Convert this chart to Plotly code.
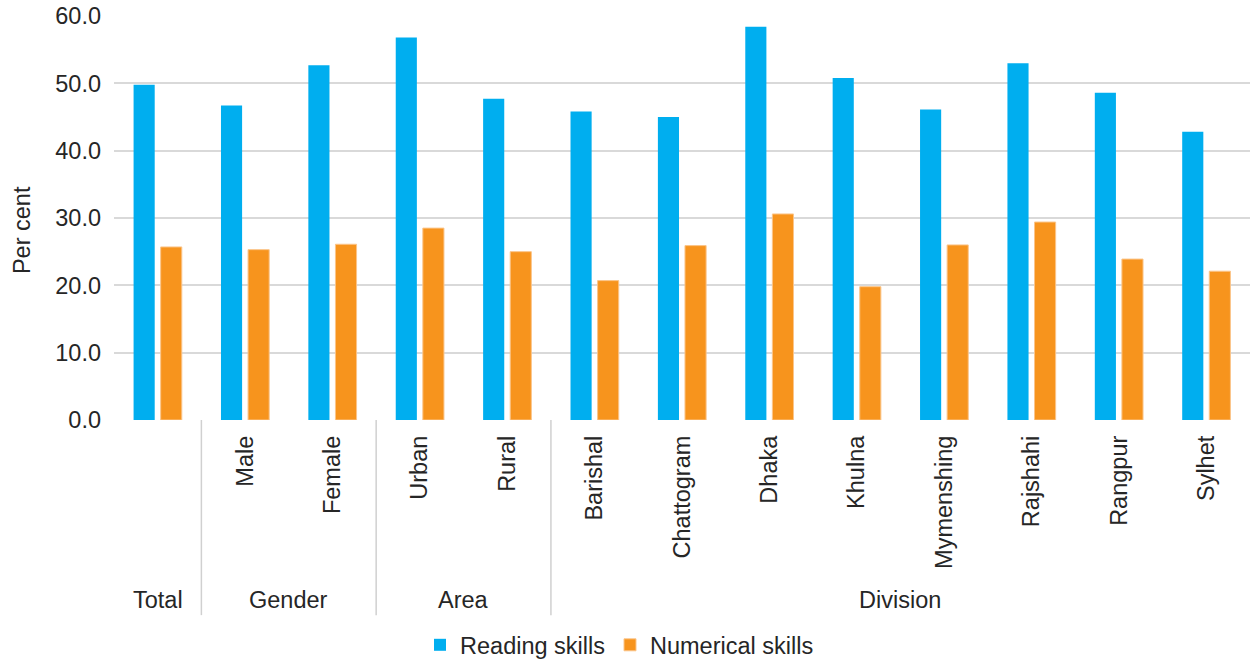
import plotly.graph_objects as go

# Categories along the x axis
categories = ["Total", "Male", "Female", "Urban", "Rural", "Barishal", "Chattogram",
              "Dhaka", "Khulna", "Mymenshing", "Rajshahi", "Rangpur", "Sylhet"]
# Rotated tick labels (the overall bar is labelled by its group only)
tick_labels = [""] + categories[1:]

# Per cent of children with foundational skills
reading_skills = [49.8, 46.7, 52.7, 56.8, 47.7, 45.8, 45.0, 58.4, 50.8, 46.1, 53.0, 48.6, 42.8]
numerical_skills = [25.7, 25.3, 26.1, 28.5, 25.0, 20.7, 25.9, 30.6, 19.8, 26.0, 29.4, 23.9, 22.1]

# Grouping of the categories: (label, first index, last index)
groups = [("Total", 0, 0), ("Gender", 1, 2), ("Area", 3, 4), ("Division", 5, 12)]

y_ticks = [0, 10, 20, 30, 40, 50, 60]

BLUE = "#00AEEF"
ORANGE = "#F7941D"
TEXT = "#262626"
FONT = "Liberation Sans, Arial, sans-serif"
FS = 23.5

fig = go.Figure()
fig.add_trace(go.Bar(name="Reading skills", x=categories, y=reading_skills,
                     marker=dict(color=BLUE, line=dict(width=0))))
fig.add_trace(go.Bar(name="Numerical skills", x=categories, y=numerical_skills,
                     marker=dict(color=ORANGE, line=dict(color="#FBC58A", width=1))))

# Vertical separators between groups
shapes = []
for _, first, last in groups[1:]:
    shapes.append(dict(type="line", xref="x", yref="paper",
                       x0=first - 0.5, x1=first - 0.5, y0=0, y1=-0.483,
                       line=dict(color="#D0D0D0", width=1.5)))

annotations = []
for label, first, last in groups:
    annotations.append(dict(text=label, xref="x", yref="paper",
                            x=(first + last) / 2, y=-0.4455,
                            xanchor="center", yanchor="middle", showarrow=False,
                            font=dict(family=FONT, size=FS, color=TEXT)))

annotations.append(dict(text="Per cent", xref="paper", yref="paper",
                        x=-0.081, y=0.47, textangle=-90,
                        xanchor="center", yanchor="middle", showarrow=False,
                        font=dict(family=FONT, size=FS, color=TEXT)))

fig.update_layout(
    width=1251, height=664,
    margin=dict(l=114, r=1, t=16, b=244, autoexpand=False),
    paper_bgcolor="white", plot_bgcolor="white",
    barmode="group", bargap=0.38, bargroupgap=0.22,
    font=dict(family=FONT, size=FS, color=TEXT),
    shapes=shapes, annotations=annotations,
    legend=dict(orientation="h", x=0.445, y=-0.557, xanchor="center", yanchor="middle",
                font=dict(family=FONT, size=FS, color=TEXT),
                itemwidth=30, traceorder="normal"),
    showlegend=True,
)
fig.update_xaxes(tickangle=-90, ticks="", showline=False, showgrid=False, automargin=False,
                 tickmode="array", tickvals=categories, ticktext=tick_labels,
                 ticklabelstandoff=10, tickfont=dict(family=FONT, size=FS, color=TEXT))
fig.update_yaxes(range=[0, 60], tickvals=y_ticks, tickformat=".1f", ticks="", automargin=False,
                 showgrid=True, gridcolor="#D9D9D9", gridwidth=1.5,
                 zeroline=True, zerolinecolor="white", zerolinewidth=1,
                 showline=False, ticklabelstandoff=12,
                 tickfont=dict(family=FONT, size=FS, color=TEXT))

fig.write_html("out.html")
